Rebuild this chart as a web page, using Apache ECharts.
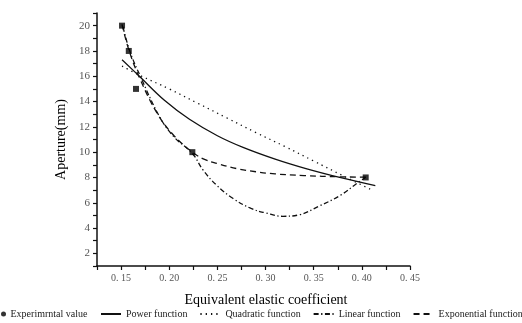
<!DOCTYPE html>
<html>
<head>
<meta charset="utf-8">
<script src="https://cdn.jsdelivr.net/npm/echarts@6/dist/echarts.min.js"></script>
<style>
  html, body { margin: 0; padding: 0; background: #fff; }
  #chart { width: 522px; height: 323px; }
</style>
</head>
<body>
<div id="chart"></div>
<script>
  // experimental points
  const expX = [0.151, 0.158, 0.1655, 0.224, 0.404];
  const expY = [20, 18, 15, 10, 8];

  // fitted curves
  const powerX = [0.151, 0.169, 0.195, 0.221, 0.25, 0.276, 0.31, 0.342, 0.377, 0.414];
  const powerY = [17.3, 16.0, 14.1, 12.6, 11.3, 10.4, 9.45, 8.7, 8.0, 7.35];

  const quadX = [0.151, 0.17, 0.2, 0.23, 0.26, 0.29, 0.32, 0.35, 0.38, 0.412];
  const quadY = [16.8, 16.05, 15.0, 13.85, 12.7, 11.55, 10.45, 9.3, 8.15, 6.95];

  const linX = [0.152, 0.159, 0.17, 0.19, 0.205, 0.224, 0.235, 0.249, 0.266, 0.285, 0.3, 0.318, 0.335, 0.356, 0.378, 0.396, 0.404];
  const linY = [19.9, 18.0, 16.0, 12.8, 11.2, 9.9, 8.6, 7.4, 6.35, 5.55, 5.2, 4.93, 5.05, 5.75, 6.6, 7.6, 8.0];

  const expoX = [0.151, 0.158, 0.169, 0.188, 0.205, 0.224, 0.236, 0.25, 0.27, 0.29, 0.31, 0.34, 0.377, 0.405];
  const expoY = [20.1, 18.1, 15.9, 13.0, 11.3, 10.0, 9.45, 9.1, 8.7, 8.45, 8.28, 8.15, 8.05, 8.02];

  const names = ['Experimrntal value', 'Power function', 'Quadratic function', 'Linear function', 'Exponential function'];

  const pairs = (xs, ys) => xs.map((x, i) => [x, ys[i]]);
  const serif = '"Liberation Serif", "DejaVu Serif", serif';

  function lineSeries(name, xs, ys, type) {
    return {
      name: name,
      type: 'line',
      smooth: 0.4,
      symbol: 'none',
      data: pairs(xs, ys),
      lineStyle: { color: '#111', width: 1.3, type: type },
      itemStyle: { color: '#111' }
    };
  }

  const chart = echarts.init(document.getElementById('chart'));
  chart.setOption({
    animation: false,
    grid: { left: 97, right: 112, top: 13, bottom: 57 },
    legend: [
      {
        data: [{ name: names[0], icon: 'circle' }],
        left: 1, top: 309, padding: 0,
        itemWidth: 8, itemHeight: 5,
        textStyle: { fontFamily: serif, fontSize: 10, color: '#222', padding: [0, 0, 0, -2] }
      },
      {
        data: names.slice(1),
        left: 100, top: 309, width: 1000, padding: 0,
        itemWidth: 20, itemHeight: 6, itemGap: 12,
        itemStyle: { opacity: 0 },
        textStyle: { fontFamily: serif, fontSize: 10, color: '#222' }
      }
    ],
    xAxis: {
      type: 'value',
      min: 0.125, max: 0.45, interval: 0.025,
      name: 'Equivalent elastic coefficient',
      nameLocation: 'middle', nameGap: 27,
      nameTextStyle: { fontFamily: serif, fontSize: 14, color: '#000', padding: [0, 0, 0, 25] },
      axisLine: { lineStyle: { color: '#111', width: 1.5 } },
      axisTick: { length: 4, lineStyle: { color: '#111', width: 1.2 } },
      axisLabel: {
        fontFamily: serif, fontSize: 10, color: '#555', margin: 7,
        formatter: v => (Math.round(v * 1000) % 50 === 0 ? v.toFixed(2).replace('.', '. ') : '')
      },
      splitLine: { show: false }
    },
    yAxis: {
      type: 'value',
      min: 1, max: 21, interval: 1,
      name: 'Aperture(mm)',
      nameLocation: 'middle', nameGap: 28,
      nameTextStyle: { fontFamily: serif, fontSize: 14, color: '#000' },
      axisLine: { show: true, lineStyle: { color: '#111', width: 1.5 } },
      axisTick: { show: true, length: 4, lineStyle: { color: '#111', width: 1.2 } },
      axisLabel: {
        fontFamily: serif, fontSize: 11, color: '#555', margin: 7,
        formatter: v => (v % 2 === 0 ? String(v) : '')
      },
      splitLine: { show: false }
    },
    series: [
      {
        name: names[0],
        type: 'scatter',
        symbol: 'rect',
        symbolSize: 6,
        data: pairs(expX, expY),
        itemStyle: { color: '#000' },
        z: 5
      },
      lineSeries(names[1], powerX, powerY, 'solid'),
      lineSeries(names[2], quadX, quadY, [1.3, 4]),
      lineSeries(names[3], linX, linY, [5, 2.5, 1.3, 2.5]),
      lineSeries(names[4], expoX, expoY, [6, 4])
    ]
  });
</script>
</body>
</html>
